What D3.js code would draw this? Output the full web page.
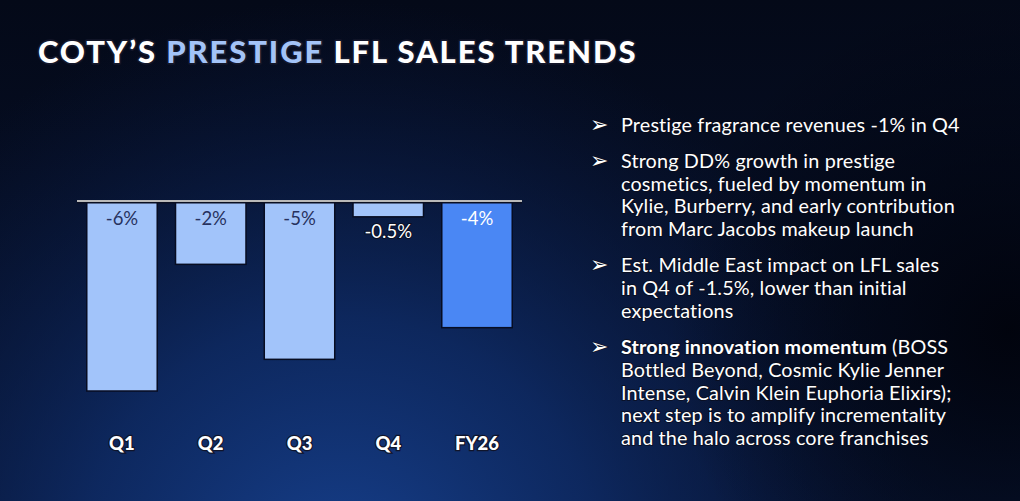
<!DOCTYPE html>
<html>
<head>
<meta charset="utf-8">
<script src="https://cdn.jsdelivr.net/npm/d3@7"></script>
<style>
  html, body { margin: 0; padding: 0; background: #050b1e; overflow: hidden; }
  svg { display: block; }
</style>
</head>
<body>
<div id="chart"></div>
<script>
// data
const categories = ["Q1", "Q2", "Q3", "Q4", "FY26"];
const values = [-6, -2, -5, -0.5, -4];
const valueLabels = ["-6%", "-2%", "-5%", "-0.5%", "-4%"];
const highlighted = ["FY26"];

const titleParts = [
  { text: "COTY\u2019S ", accent: false },
  { text: "PRESTIGE", accent: true },
  { text: " LFL SALES TRENDS", accent: false }
];

// each bullet: list of lines, each line a list of [text, bold]
const bullets = [
  [[["Prestige fragrance revenues -1% in Q4", false]]],
  [[["Strong DD% growth in prestige", false]],
   [["cosmetics, fueled by momentum in", false]],
   [["Kylie, Burberry, and early contribution", false]],
   [["from Marc Jacobs makeup launch", false]]],
  [[["Est. Middle East impact on LFL sales", false]],
   [["in Q4 of -1.5%, lower than initial", false]],
   [["expectations", false]]],
  [[["Strong innovation momentum", true], [" (BOSS", false]],
   [["Bottled Beyond, Cosmic Kylie Jenner", false]],
   [["Intense, Calvin Klein Euphoria Elixirs);", false]],
   [["next step is to amplify incrementality", false]],
   [["and the halo across core franchises", false]]]
];

const width = 1020, height = 501;

const svg = d3.select("#chart").append("svg")
    .attr("width", width)
    .attr("height", height);

// background
const defs = svg.append("defs");
const lin = defs.append("linearGradient")
    .attr("id", "bgLin").attr("x1", 0).attr("y1", 0).attr("x2", 0).attr("y2", 1);
lin.append("stop").attr("offset", "0%").attr("stop-color", "#040918");
lin.append("stop").attr("offset", "100%").attr("stop-color", "#071432");

const rad = defs.append("radialGradient")
    .attr("id", "bgRad")
    .attr("gradientUnits", "userSpaceOnUse")
    .attr("cx", 340).attr("cy", 580).attr("r", 580);
rad.append("stop").attr("offset", "0%").attr("stop-color", "#17418f").attr("stop-opacity", 1);
rad.append("stop").attr("offset", "45%").attr("stop-color", "#0f2d6a").attr("stop-opacity", 0.8);
rad.append("stop").attr("offset", "100%").attr("stop-color", "#0a1a45").attr("stop-opacity", 0);

const dark = defs.append("radialGradient")
    .attr("id", "bgDark")
    .attr("gradientUnits", "userSpaceOnUse")
    .attr("cx", 1010).attr("cy", 330).attr("r", 340);
dark.append("stop").attr("offset", "0%").attr("stop-color", "#01030c").attr("stop-opacity", 0.95);
dark.append("stop").attr("offset", "100%").attr("stop-color", "#01030c").attr("stop-opacity", 0);

svg.append("rect").attr("width", width).attr("height", height).attr("fill", "url(#bgLin)");
svg.append("rect").attr("width", width).attr("height", height).attr("fill", "url(#bgRad)");
svg.append("rect").attr("width", width).attr("height", height).attr("fill", "url(#bgDark)");

// title
const title = svg.append("text")
    .attr("x", 38)
    .attr("y", 63)
    .attr("font-family", "Lato, sans-serif")
    .attr("font-weight", 900)
    .attr("font-size", 31)
    .attr("letter-spacing", 1.9)
    .attr("fill", "#ffffff")
    .attr("stroke", "#14172a")
    .attr("stroke-width", 3.5)
    .attr("paint-order", "stroke")
    .attr("stroke-linejoin", "round");
title.selectAll("tspan")
  .data(titleParts)
  .join("tspan")
    .attr("fill", d => d.accent ? "#a3c3f7" : "#ffffff")
    .text(d => d.text);

// scales
const x = d3.scaleBand()
    .domain(categories)
    .range([77, 522])
    .paddingInner(0.206)
    .paddingOuter(0.11);

const y = d3.scaleLinear()
    .domain([0, -6])
    .range([201, 391]);

const chart = svg.append("g");

chart.selectAll("rect.bar")
  .data(categories)
  .join("rect")
    .attr("class", "bar")
    .attr("x", d => x(d))
    .attr("y", y(0))
    .attr("width", x.bandwidth())
    .attr("height", (d, i) => y(values[i]) - y(0))
    .attr("fill", d => highlighted.includes(d) ? "#4a87f4" : "#a2c4fa")
    .attr("stroke", "#070d22")
    .attr("stroke-width", 1.5);

// zero line
chart.append("line")
    .attr("x1", 77).attr("x2", 522)
    .attr("y1", y(0) + 1.5).attr("y2", y(0) + 1.5)
    .attr("stroke", "#0a0f22")
    .attr("stroke-width", 2);
chart.append("line")
    .attr("x1", 77).attr("x2", 522)
    .attr("y1", y(0)).attr("y2", y(0))
    .attr("stroke", "#b9b9b9")
    .attr("stroke-width", 2);

// value labels
chart.selectAll("text.val")
  .data(categories)
  .join("text")
    .attr("class", "val")
    .attr("x", d => x(d) + x.bandwidth() / 2)
    .attr("y", (d, i) => {
      const h = y(values[i]) - y(0);
      return h < 30 ? y(values[i]) + 21 : y(0) + 24;
    })
    .attr("text-anchor", "middle")
    .attr("font-family", "Lato, sans-serif")
    .attr("font-weight", 400)
    .attr("font-size", 18.5)
    .attr("fill", (d, i) => {
      const h = y(values[i]) - y(0);
      if (h < 30 || highlighted.includes(d)) return "#ffffff";
      return "#27325e";
    })
    .attr("stroke", (d, i) => (y(values[i]) - y(0)) < 30 ? "#0a0f22" : "none")
    .attr("stroke-width", 2)
    .attr("paint-order", "stroke")
    .text((d, i) => valueLabels[i]);

// category labels
chart.selectAll("text.cat")
  .data(categories)
  .join("text")
    .attr("class", "cat")
    .attr("x", d => x(d) + x.bandwidth() / 2)
    .attr("y", 450)
    .attr("text-anchor", "middle")
    .attr("font-family", "Lato, sans-serif")
    .attr("font-weight", 900)
    .attr("font-size", 18.5)
    .attr("fill", "#ffffff")
    .attr("stroke", "#10152b")
    .attr("stroke-width", 2.5)
    .attr("paint-order", "stroke")
    .text(d => d);

// bullets
const lineH = 22.7, bulletGap = 13.6;
let yy = 131.7;
const notes = svg.append("g")
    .attr("font-family", "Lato, sans-serif")
    .attr("font-size", 19.8)
    .attr("fill", "#ffffff");

bullets.forEach(lines => {
  notes.append("text")
      .attr("x", 590)
      .attr("y", yy)
      .attr("font-family", "DejaVu Sans, sans-serif")
      .attr("font-size", 22)
      .attr("fill", "#ffffff")
      .attr("stroke", "rgba(10,12,25,0.7)")
      .attr("stroke-width", 1.5)
      .attr("paint-order", "stroke")
      .text("\u27A2");
  lines.forEach(parts => {
    const t = notes.append("text")
        .attr("x", 621)
        .attr("y", yy)
        .attr("letter-spacing", 0.15)
        .attr("stroke", "rgba(10,12,25,0.7)")
        .attr("stroke-width", 2)
        .attr("paint-order", "stroke");
    t.selectAll("tspan")
      .data(parts)
      .join("tspan")
        .attr("font-weight", d => d[1] ? 700 : 400)
        .text(d => d[0]);
    yy += lineH;
  });
  yy += bulletGap;
});
</script>
</body>
</html>
